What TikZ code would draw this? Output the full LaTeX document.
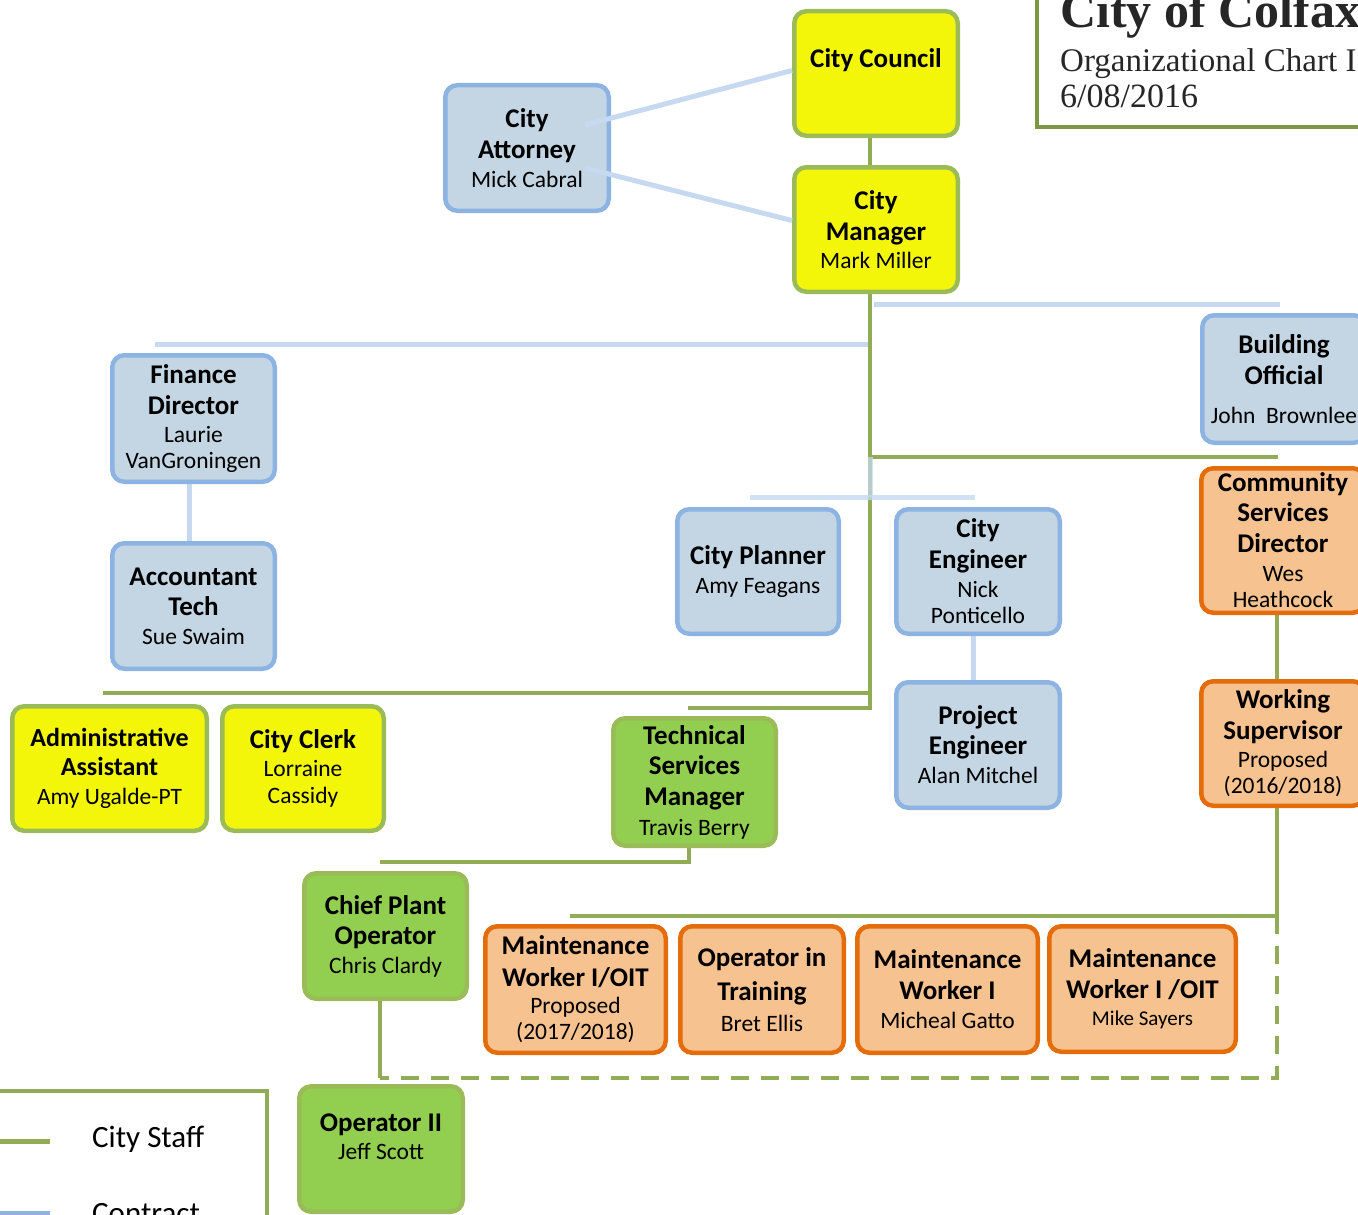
\documentclass[tikz,border=0pt]{standalone}
\usepackage{fontspec}
\setmainfont{Carlito}
\newfontfamily\titlefont{Liberation Serif}
\usetikzlibrary{calc,backgrounds}
\definecolor{yel}{RGB}{244,246,10}
\definecolor{grnB}{RGB}{155,187,89}
\definecolor{grnL}{RGB}{145,172,84}
\definecolor{grnF}{RGB}{146,206,80}
\definecolor{bluB}{RGB}{141,179,226}
\definecolor{bluF}{RGB}{196,214,227}
\definecolor{bluL}{RGB}{198,217,241}
\definecolor{orB}{RGB}{228,108,10}
\definecolor{orF}{RGB}{246,194,144}
\definecolor{ttl}{RGB}{125,152,66}
\newcommand\nm{\fontsize{23.5}{27}\selectfont\mdseries}
\tikzset{
  card/.style={draw, line width=4.5pt, rounded corners=12pt, inner sep=0pt, align=center,
    font=\fontsize{27}{31}\selectfont\bfseries},
  cardtext/.style={inner sep=0pt, align=center, font=\fontsize{27}{31}\selectfont\bfseries},
  yelcard/.style={card, draw=grnB, fill=yel},
  grncard/.style={card, draw=grnB, fill=grnF},
  blucard/.style={card, draw=bluB, fill=bluF},
  orcard/.style={card, draw=orB, fill=orF},
  staff/.style={draw=grnL, line width=4pt},
  contract/.style={draw=bluL, line width=5pt},
  frame/.style={draw=ttl, line width=3.5pt},
}
\begin{document}
\begin{tikzpicture}[x=1pt,y=-1pt]
\useasboundingbox (0,0) rectangle (1358,1215);
\clip (0,0) rectangle (1358,1215);

% title
\coordinate (tA) at (1037,-5);
\coordinate (tB) at (1037,127);
\coordinate (tC) at (1365,127);
\draw[frame, line width=4pt] (tA) -- (tB) -- (tC);
\node[anchor=base west, inner sep=0pt, font=\titlefont\fontsize{50}{52}\selectfont\bfseries, text=black!85] (title) at (1060,28) {City of Colfax};
\node[anchor=base west, inner sep=0pt, font=\titlefont\fontsize{33}{36}\selectfont, text=black!85] (sub1) at (1060,71) {Organizational Chart I};
\node[anchor=base west, inner sep=0pt, font=\titlefont\fontsize{34}{36}\selectfont, text=black!85] (sub2) at (1060,107) {6/08/2016};

% cards
\node[yelcard, minimum width=163.5, minimum height=124.5] (cc) at (876,73.5) {};
\node[cardtext] (cct) at ([yshift=13pt]cc.center) {City Council};
\node[yelcard, minimum width=163.5, minimum height=124.5] (cm) at (876,229.5) {City\\Manager\\[-2.5pt]{\nm Mark Miller}};
\node[blucard, minimum width=163.5, minimum height=125.5] (att) at (527,148) {City\\Attorney\\[-2.5pt]{\nm Mick Cabral}};
\node[blucard, minimum width=163.5, minimum height=127.5] (bo) at (1284,379) {Building\\Official\\[8pt]{\nm John\ \ Brownlee}};
\node[blucard, minimum width=162.5, minimum height=126.5] (fd) at (193.5,418.5) {Finance\\Director\\[-3pt]{\nm Laurie}\\[-4.5pt]{\nm VanGroningen}};
\node[blucard, minimum width=162.5, minimum height=125.5] (at) at (193.5,606) {Accountant\\[-1pt]Tech\\[-2pt]{\nm Sue Swaim}};
\node[blucard, minimum width=161.5, minimum height=124.5] (cp) at (758,571.5) {City Planner\\[-2pt]{\nm Amy Feagans}};
\node[blucard, minimum width=163.5, minimum height=124.5] (ce) at (978,571.5) {City\\Engineer\\[-2pt]{\nm Nick}\\[-5pt]{\nm Ponticello}};
\node[blucard, minimum width=163.5, minimum height=125.5] (pe) at (978,745) {Project\\[-1pt]Engineer\\[-2pt]{\nm Alan Mitchel}};
\node[orcard, minimum width=163.5, minimum height=144.5] (csd) at (1283,540.5) {Community\\[-1pt]Services\\Director\\[-2pt]{\nm Wes}\\[-5pt]{\nm Heathcock}};
\node[orcard, minimum width=163.5, minimum height=124.5] (ws) at (1283,743.5) {Working\\Supervisor\\[-3pt]{\nm Proposed}\\[-5pt]{\nm (2016/2018)}};
\node[yelcard, minimum width=194.5, minimum height=124.5, font=\fontsize{26}{31}\selectfont\bfseries] (aa) at (109.5,768.5) {Administrative\\[-2pt]Assistant\\[-2pt]{\nm Amy Ugalde-PT}};
\node[yelcard, minimum width=161.5, minimum height=124.5] (clk) at (303,768.5) {City Clerk\\[-3pt]{\nm Lorraine}\\[-4pt]{\nm Cassidy}};
\node[grncard, minimum width=162.5, minimum height=127.5] (tsm) at (694.5,782) {Technical\\[-1pt]Services\\Manager\\[-1pt]{\nm Travis Berry}};
\node[grncard, minimum width=162.5, minimum height=125.5] (cpo) at (385.5,936) {Chief Plant\\[-1pt]Operator\\[-2pt]{\nm Chris Clardy}};
\node[grncard, minimum width=163.5, minimum height=125.5] (op2) at (381,1149) {};
\node[cardtext] (op2t) at ([yshift=12pt]op2.center) {Operator II\\[-3pt]{\nm Jeff Scott}};
\node[orcard, minimum width=180.5, minimum height=126.5] (m1) at (575.5,989.5) {Maintenance\\[1pt]Worker I/OIT\\[-4pt]{\nm Proposed}\\[-5pt]{\nm (2017/2018)}};
\node[orcard, minimum width=163.5, minimum height=126.5] (oit) at (762,989.5) {Operator in\\[3pt]Training\\[0pt]{\nm Bret Ellis}};
\node[orcard, minimum width=180.5, minimum height=126.5] (mw) at (947.5,989.5) {Maintenance\\Worker I\\[-2pt]{\nm Micheal Gatto}};
\node[orcard, minimum width=186.5, minimum height=125.5] (ms) at (1142.5,989) {Maintenance\\Worker I /OIT\\[-4pt]{\fontsize{21}{25}\selectfont\mdseries Mike Sayers}};

% junction coordinates
\coordinate (sp) at ([xshift=-6pt]cm.south);
\coordinate (jB1) at (874,304);
\coordinate (boR) at (1280,304);
\coordinate (jF) at (868,344);
\coordinate (fdL) at (155,344);
\coordinate (jC) at (870,457);
\coordinate (csR) at (1278,457);
\coordinate (jP) at (870,497);
\coordinate (pl) at (750,497);
\coordinate (pr) at (975,497);
\coordinate (jL) at (870,693);
\coordinate (aaL) at (103,693);
\coordinate (jT) at (870,708);
\coordinate (tsL) at (688,708);
\coordinate (jW) at (1277,916);
\coordinate (mL) at (570,916);
\coordinate (dR) at (1277,1078);
\coordinate (dL) at (380,1078);
\coordinate (tsJ) at (689,862);
\coordinate (tsE) at (380,862);

\begin{pgfonlayer}{background}
\draw[staff] ([xshift=-6pt]cc.south) -- ([xshift=-6pt]cm.north);
\draw[staff] (sp) -- (jT) -- (tsL);
\draw[staff] (jL) -- (aaL);
\draw[staff] (jC) -- (csR);
\draw[contract] (jB1) -- (boR);
\draw[contract] (jF) -- (fdL);
\draw[contract, opacity=0.75] (jC) -- (jP);
\draw[contract, opacity=0.8] (pl) -- (pr);
\draw[contract] ([xshift=-4.5pt]fd.south) -- ([xshift=-4.5pt]at.north);
\draw[contract] ([xshift=-5pt]ce.south) -- ([xshift=-5pt]pe.north);
\draw[staff] ([xshift=-6pt]csd.south) -- ([xshift=-6pt]ws.north);
\draw[staff] ([xshift=-6pt]ws.south) -- (jW) -- (mL);
\draw[staff, dash pattern=on 18pt off 12pt] (jW) -- (dR) -- (dL);
\draw[staff] ([xshift=-5.5pt]cpo.south) -- (dL);
\draw[staff] ([xshift=-5.5pt]tsm.south) -- (tsJ) -- (tsE);
\end{pgfonlayer}

% attorney lines on top
\draw[contract] ($(att.east)+(-26,-23)$) -- ($(cc.west)+(0,-3)$);
\draw[contract] ($(att.east)+(-26,20)$) -- ($(cm.west)+(0,-9)$);

% legend
\coordinate (lgA) at (-5,1091);
\coordinate (lgB) at (267,1091);
\coordinate (lgC) at (267,1220);
\draw[frame, draw=grnL] (lgA) -- (lgB) -- (lgC);
\coordinate (ls1) at (0,1141);
\coordinate (ls2) at (50,1141);
\coordinate (lc1) at (0,1213);
\coordinate (lc2) at (50,1213);
\draw[staff, line width=5pt] (ls1) -- (ls2);
\draw[draw={rgb,255:red,141;green,179;blue,226}, line width=5pt] (lc1) -- (lc2);
\node[anchor=base west, inner sep=0pt, font=\fontsize{31}{34}\selectfont] (lgs) at (92,1147) {City Staff};
\node[anchor=base west, inner sep=0pt, font=\fontsize{31}{34}\selectfont] (lgc) at (92,1223) {Contract};
\end{tikzpicture}
\end{document}
